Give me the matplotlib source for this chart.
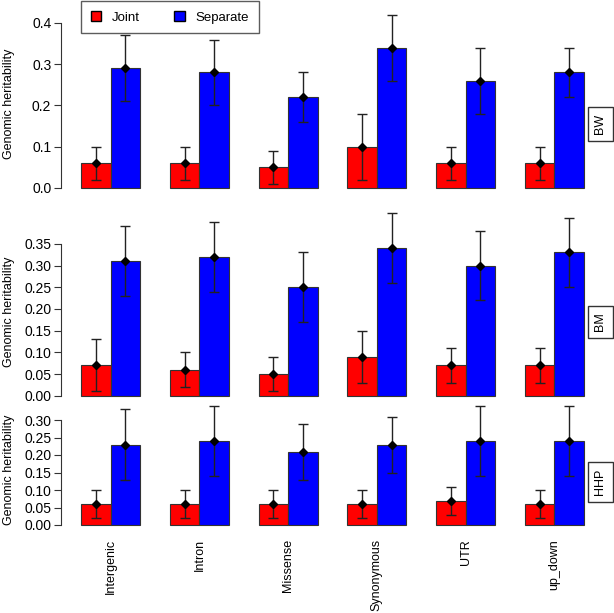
import numpy as np
import matplotlib
matplotlib.use("Agg")
import matplotlib.pyplot as plt
from matplotlib.patches import Patch

plt.rcParams['font.family'] = ['Liberation Sans', 'DejaVu Sans']

categories = ["Intergenic", "Intron", "Missense", "Synonymous", "UTR", "up_down"]
traits = ["BW", "BM", "HHP"]

# heritability estimates, lower and upper bounds
joint = {
    "BW": [0.06, 0.06, 0.05, 0.10, 0.06, 0.06],
    "BM": [0.07, 0.06, 0.05, 0.09, 0.07, 0.07],
    "HHP": [0.06, 0.06, 0.06, 0.06, 0.07, 0.06],
}
joint_lo = {
    "BW": [0.02, 0.02, 0.01, 0.02, 0.02, 0.02],
    "BM": [0.01, 0.02, 0.01, 0.03, 0.03, 0.03],
    "HHP": [0.02, 0.02, 0.02, 0.02, 0.03, 0.02],
}
joint_hi = {
    "BW": [0.10, 0.10, 0.09, 0.18, 0.10, 0.10],
    "BM": [0.13, 0.10, 0.09, 0.15, 0.11, 0.11],
    "HHP": [0.10, 0.10, 0.10, 0.10, 0.11, 0.10],
}
separate = {
    "BW": [0.29, 0.28, 0.22, 0.34, 0.26, 0.28],
    "BM": [0.31, 0.32, 0.25, 0.34, 0.30, 0.33],
    "HHP": [0.23, 0.24, 0.21, 0.23, 0.24, 0.24],
}
separate_lo = {
    "BW": [0.21, 0.20, 0.16, 0.26, 0.18, 0.22],
    "BM": [0.23, 0.24, 0.17, 0.26, 0.22, 0.25],
    "HHP": [0.13, 0.14, 0.13, 0.15, 0.14, 0.14],
}
separate_hi = {
    "BW": [0.37, 0.36, 0.28, 0.42, 0.34, 0.34],
    "BM": [0.39, 0.40, 0.33, 0.42, 0.38, 0.41],
    "HHP": [0.33, 0.34, 0.29, 0.31, 0.34, 0.34],
}
yticks = {
    "BW": [0.0, 0.1, 0.2, 0.3, 0.4],
    "BM": [0.00, 0.05, 0.10, 0.15, 0.20, 0.25, 0.30, 0.35],
    "HHP": [0.00, 0.05, 0.10, 0.15, 0.20, 0.25, 0.30],
}
tickfmt = {"BW": "%.1f", "BM": "%.2f", "HHP": "%.2f"}

W, H = 614, 613
fig = plt.figure(figsize=(W / 100, H / 100), dpi=100)

# pixel layout per panel: zero line, px per unit, bottom extension
layout = {
    "BW": (188, 412.5, -0.016),
    "BM": (395.7, 434, -0.014),
    "HHP": (525, 350, -0.017),
}
strip_y = {"BW": 124, "BM": 322, "HHP": 482}
ylab_y = {"BW": 104, "BM": 312, "HHP": 470}

x_left, x_right = 61, 604
grp = np.arange(len(categories)) * 3
xr = grp + 1.5
xb = grp + 2.5
ebc = "#222222"

for k, t in enumerate(traits):
    z, ppu, lo = layout[t]
    hi = yticks[t][-1]
    bot_px = z - lo * ppu
    top_px = z - hi * ppu
    ax = fig.add_axes([x_left / W, 1 - bot_px / H, (x_right - x_left) / W, (bot_px - top_px) / H])
    ax.set_xlim(0.32, 18.68)
    ax.set_ylim(lo, hi)
    ax.patch.set_alpha(0)

    j = np.array(joint[t]); s = np.array(separate[t])
    ax.bar(xr, j, width=1, color="#ff0000", edgecolor="#333333", linewidth=0.8)
    ax.bar(xb, s, width=1, color="#0000ff", edgecolor="#333333", linewidth=0.8)
    for xs, v, l, u in [(xr, j, joint_lo[t], joint_hi[t]), (xb, s, separate_lo[t], separate_hi[t])]:
        err = np.vstack([v - np.array(l), np.array(u) - v])
        ax.errorbar(xs, v, yerr=err, fmt="D", color="black", ecolor=ebc, markersize=4,
                    elinewidth=1, capsize=3.6, capthick=1, clip_on=False, zorder=5)

    for sp in ["top", "right", "bottom"]:
        ax.spines[sp].set_visible(False)
    ax.spines["left"].set_bounds(0, hi)
    ax.spines["left"].set_color("#333333")
    ax.set_yticks(yticks[t])
    ax.set_yticklabels([tickfmt[t] % v for v in yticks[t]], fontsize=10)
    ax.tick_params(axis="y", length=5, width=0.8, pad=2, color="#333333")
    if t == "HHP":
        ax.set_xticks((xr + xb) / 2)
        ax.set_xticklabels(categories, rotation=90, fontsize=9, va="top")
        ax.tick_params(axis="x", length=0, pad=6)
    else:
        ax.set_xticks([])

    fig.text(9 / W, 1 - ylab_y[t] / H, "Genomic heritability", rotation=90,
             ha="center", va="center", fontsize=9)
    fig.text(600.5 / W, 1 - strip_y[t] / H, t, rotation=90, ha="center", va="center",
             fontsize=9,
             bbox=dict(boxstyle="square,pad=0.55", facecolor="white", edgecolor="#333333", linewidth=1))

handles = [Patch(facecolor="#ff0000", edgecolor="black", label="Joint"),
           Patch(facecolor="#0000ff", edgecolor="black", label="Separate")]
fig.legend(handles=handles, loc="upper left", bbox_to_anchor=(81 / W, 1 - 1 / H), ncol=2,
           fontsize=9.5, frameon=True, fancybox=False, edgecolor="#333333",
           handlelength=0.8, handleheight=0.8, columnspacing=2.6, borderpad=0.75,
           handletextpad=0.8, borderaxespad=0)

fig.savefig("out.png", dpi=100)
